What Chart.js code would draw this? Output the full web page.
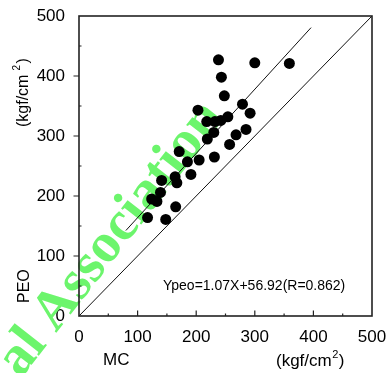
<!DOCTYPE html>
<html>
<head>
<meta charset="utf-8">
<script src="https://cdn.jsdelivr.net/npm/chart.js@4.4.1/dist/chart.umd.min.js"></script>
<style>
  html, body { margin: 0; padding: 0; background: #fff; }
  #wrap { width: 386px; height: 373px; position: relative; }
</style>
</head>
<body>
<div id="wrap"><canvas id="c"></canvas></div>
<script>
// values
const mcValues  = [117, 148, 124, 133, 139, 165, 141, 167, 164, 171, 185, 191, 205, 219, 231, 230, 203, 218, 232, 242, 254, 257, 268, 285, 279, 292, 248, 243, 238, 300, 359];
const peoValues = [164, 161, 195, 191, 206, 182, 226, 222, 232, 274, 257, 236, 260, 295, 265, 306, 343, 324, 324, 326, 332, 286, 302, 311, 353, 338, 367, 398, 427, 422, 421];
const diagX = [0, 500];
const diagY = [0, 500];
const fitX = [80, 396];
const fitY = [142.5, 480.6];
const tickValues = [0, 100, 200, 300, 400, 500];
const equation = 'Ypeo=1.07X+56.92(R=0.862)';

const FONT = "'Liberation Sans', Arial, sans-serif";

const toPoints = (xs, ys) => xs.map((x, i) => ({ x: x, y: ys[i] }));

// green watermark behind the marks
const watermark = {
    id: 'watermark',
    beforeDatasetsDraw(chart) {
        const ctx = chart.ctx;
        ctx.save();
        ctx.font = "bold 56px 'Liberation Serif', 'Times New Roman', serif";
        const lead = ctx.measureText('al ').width + ctx.measureText('A').width / 2;
        ctx.translate(54, 306);
        ctx.rotate(-52 * Math.PI / 180);
        ctx.fillStyle = '#6cf56c';
        ctx.textBaseline = 'middle';
        ctx.fillText('al Association', -lead, 4);
        ctx.restore();
    }
};

// box, tick marks and the loose texts
const frame = {
    id: 'frame',
    afterDraw(chart) {
        const ctx = chart.ctx;
        const a = chart.chartArea;
        const xs = chart.scales.x, ys = chart.scales.y;
        ctx.save();
        ctx.strokeStyle = '#222';
        ctx.lineWidth = 1.6;
        ctx.strokeRect(a.left, a.top, a.right - a.left, a.bottom - a.top);

        ctx.lineWidth = 1.2;
        ctx.beginPath();
        for (let v = 50; v < 500; v += 50) {
            const major = v % 100 === 0;
            const px = xs.getPixelForValue(v);
            ctx.moveTo(px, a.bottom);
            ctx.lineTo(px, a.bottom - (major ? 5.5 : 2.5));
            const py = ys.getPixelForValue(v);
            if (major) {
                ctx.moveTo(a.left - 5.5, py);
                ctx.lineTo(a.left, py);
            } else {
                ctx.moveTo(a.left, py);
                ctx.lineTo(a.left + 2.5, py);
            }
        }
        ctx.stroke();

        ctx.fillStyle = '#000';
        // regression text
        ctx.font = '14px ' + FONT;
        ctx.textAlign = 'left';
        ctx.textBaseline = 'middle';
        ctx.fillText(equation, 163, 286);

        // x titles
        ctx.font = '17px ' + FONT;
        ctx.textBaseline = 'alphabetic';
        ctx.fillText('MC', 103, 365);
        let x0 = 276;
        ctx.fillText('(kgf/cm', x0, 366);
        let w = ctx.measureText('(kgf/cm').width;
        ctx.font = '11px ' + FONT;
        ctx.fillText('2', x0 + w + 0.5, 358);
        ctx.font = '17px ' + FONT;
        ctx.fillText(')', x0 + w + 7, 366);

        // y titles, rotated
        ctx.font = '16px ' + FONT;
        ctx.save();
        ctx.translate(28, 127);
        ctx.rotate(-Math.PI / 2);
        ctx.fillText('(kgf/cm', 0, 0);
        w = ctx.measureText('(kgf/cm').width;
        ctx.font = '10px ' + FONT;
        ctx.fillText('2', w + 4, -8);
        ctx.font = '16px ' + FONT;
        ctx.fillText(')', w + 11, 0);
        ctx.restore();

        ctx.save();
        ctx.translate(29, 303);
        ctx.rotate(-Math.PI / 2);
        ctx.fillText('PEO', 0, 0);
        ctx.restore();
        ctx.restore();
    }
};

const axisCommon = {
    type: 'linear',
    min: 0,
    max: 500,
    grid: { display: false },
    border: { display: false },
    afterBuildTicks: (scale) => { scale.ticks = tickValues.map(v => ({ value: v })); }
};

const config = {
    type: 'scatter',
    data: {
        datasets: [
            {
                data: toPoints(mcValues, peoValues),
                backgroundColor: '#000',
                borderColor: '#000',
                pointRadius: 5.5,
                pointBorderWidth: 0,
                order: 1
            },
            {
                type: 'line',
                data: toPoints(diagX, diagY),
                borderColor: '#111',
                borderWidth: 1,
                pointRadius: 0,
                fill: false,
                order: 2
            },
            {
                type: 'line',
                data: toPoints(fitX, fitY),
                borderColor: '#111',
                borderWidth: 1,
                pointRadius: 0,
                fill: false,
                order: 2
            }
        ]
    },
    options: {
        responsive: false,
        animation: false,
        devicePixelRatio: 1,
        layout: { padding: { left: 0, right: 14, top: 16, bottom: 0 } },
        plugins: {
            legend: { display: false },
            tooltip: { enabled: false }
        },
        scales: {
            x: Object.assign({}, axisCommon, {
                ticks: { color: '#000', padding: 3, font: { family: FONT, size: 17 }, maxRotation: 0 },
                afterFit: (scale) => { scale.height = 57; scale.paddingLeft = 0; scale.paddingRight = 0; }
            }),
            y: Object.assign({}, axisCommon, {
                ticks: { color: '#000', padding: 6, font: { family: FONT, size: 17 } },
                afterFit: (scale) => { scale.width = 79; scale.paddingTop = 0; scale.paddingBottom = 0; }
            })
        }
    },
    plugins: [watermark, frame]
};

const canvas = document.getElementById('c');
canvas.width = 386;
canvas.height = 373;
new Chart(canvas, config);
</script>
</body>
</html>
